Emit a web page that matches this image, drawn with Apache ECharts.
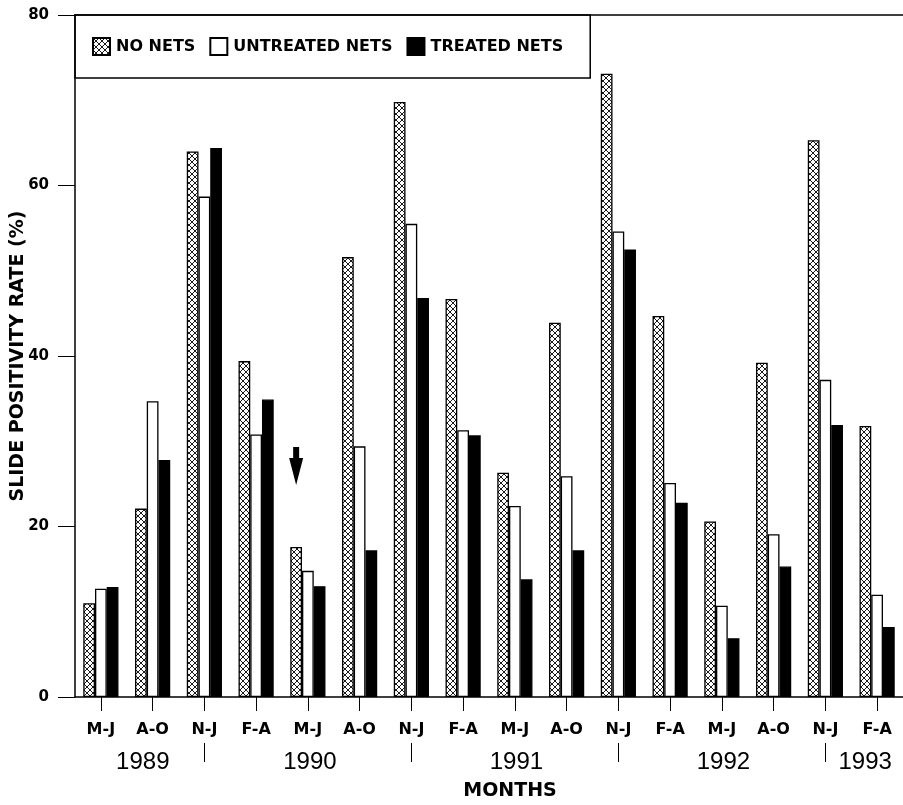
<!DOCTYPE html>
<html>
<head>
<meta charset="utf-8">
<script src="https://cdn.jsdelivr.net/npm/echarts@6/dist/echarts.min.js"></script>
<style>
html,body{margin:0;padding:0;background:#fff;}
#chart{width:903px;height:805px;}
</style>
</head>
<body>
<div id="chart"></div>
<script>
// ---- data ----
const categories = ['M-J','A-O','N-J','F-A','M-J','A-O','N-J','F-A','M-J','A-O','N-J','F-A','M-J','A-O','N-J','F-A'];
const noNets    = [11.0,22.1,64.0,39.4,17.6,51.6,69.8,46.7,26.3,43.9,73.1,44.7,20.6,39.2,65.3,31.8];
const untreated = [12.7,34.7,58.7,30.8,14.8,29.4,55.5,31.3,22.4,25.9,54.6,25.1,10.7,19.1,37.2,12.0];
const treated   = [12.9,27.8,64.4,34.9,13.0,17.2,46.8,30.7,13.8,17.2,52.5,22.8,6.9,15.3,31.9,8.2];
const seriesNames = ['NO NETS','UNTREATED NETS','TREATED NETS'];
const yearLabels = ['1989','1990','1991','1992','1993'];
const yearAt = [1.31, 4.54, 8.53, 12.53, 15.27];      // in category-band units
const yearBreaksAt = [2.5, 6.5, 10.5, 14.5];          // N-J months span two years
const arrowAt = [4, 27.1];                            // category index, value

// ---- cross-hatch pattern ----
const pc = document.createElement('canvas');
pc.width = 6; pc.height = 6;
const g = pc.getContext('2d');
g.fillStyle = '#fff'; g.fillRect(0,0,6,6);
g.strokeStyle = '#000'; g.lineWidth = 0.9;
g.beginPath();
g.moveTo(0,0); g.lineTo(6,6);
g.moveTo(6,0); g.lineTo(0,6);
g.stroke();
const hatch = {image: pc, repeat: 'repeat'};

const BOLD = 'DejaVu Sans';
const chart = echarts.init(document.getElementById('chart'), null, {renderer:'canvas'});
const barCommon = {
  type:'bar', barGap:'0%', barCategoryGap:'32%',
  xAxisIndex:0, yAxisIndex:0
};
chart.setOption({
  animation:false,
  backgroundColor:'#fff',
  grid:{left:75, right:0, top:15, bottom:108, containLabel:false, outerBoundsMode:'none'},
  legend:{
    data:seriesNames,
    left:75, top:15,
    orient:'horizontal',
    icon:'rect',
    padding:[22,27,22,17],
    borderColor:'#000', borderWidth:1.5,
    itemWidth:17, itemHeight:17, itemGap:14,
    textStyle:{fontFamily:BOLD, fontWeight:'bold', fontSize:16, color:'#000', padding:[0,0,0,1]},
    selectedMode:false
  },
  xAxis:[
    {
      type:'category', data:categories, position:'bottom', boundaryGap:true,
      axisLine:{show:true, lineStyle:{color:'#000', width:1.5}},
      axisTick:{show:true, alignWithLabel:true, length:14, lineStyle:{color:'#000', width:1}},
      axisLabel:{fontFamily:BOLD, fontWeight:'bold', fontSize:16, color:'#000', margin:25, interval:0},
      splitLine:{show:false}
    },
    {
      type:'category', data:categories, position:'top', boundaryGap:true,
      axisLine:{show:true, lineStyle:{color:'#000', width:1.5}},
      axisTick:{show:false}, axisLabel:{show:false}, splitLine:{show:false}
    },
    {
      type:'value', min:0, max:16, position:'bottom', offset:46,
      axisLine:{show:false},
      axisTick:{show:true, customValues:yearBreaksAt, length:19, inside:false, lineStyle:{color:'#000', width:1}},
      axisLabel:{
        show:true, customValues:yearAt, margin:7,
        fontFamily:'Liberation Sans', fontSize:24, color:'#000',
        formatter:function(v){ const i = yearAt.indexOf(v); return i >= 0 ? yearLabels[i] : ''; }
      },
      splitLine:{show:false},
      name:'MONTHS', nameLocation:'middle', nameGap:39, nameMoveOverlap:false,
      nameTextStyle:{fontFamily:BOLD, fontWeight:'bold', fontSize:19, color:'#000', padding:[0,0,0,42]}
    }
  ],
  yAxis:{
    type:'value', min:0, max:80, interval:20,
    axisLine:{show:true, lineStyle:{color:'#000', width:1.5}},
    axisTick:{show:true, length:17, lineStyle:{color:'#000', width:1}},
    axisLabel:{fontFamily:BOLD, fontWeight:'bold', fontSize:15, color:'#000', margin:26},
    splitLine:{show:false},
    name:'SLIDE POSITIVITY RATE (%)', nameLocation:'middle', nameGap:47, nameMoveOverlap:false,
    nameTextStyle:{fontFamily:BOLD, fontWeight:'bold', fontSize:19, color:'#000'}
  },
  series:[
    Object.assign({}, barCommon, {
      name:seriesNames[0], data:noNets,
      itemStyle:{color:hatch, borderColor:'#000', borderWidth:1.3},
      markPoint:{
        symbol:'path://M4,0 L10,0 L10,11 L14,11 L7,38 L0,11 L4,11 Z',
        symbolSize:[14,38], symbolKeepAspect:false,
        itemStyle:{color:'#000', borderWidth:0},
        label:{show:false},
        data:[{coord:arrowAt}]
      }
    }),
    Object.assign({}, barCommon, {
      name:seriesNames[1], data:untreated,
      itemStyle:{color:'#fff', borderColor:'#000', borderWidth:1.3}
    }),
    Object.assign({}, barCommon, {
      name:seriesNames[2], data:treated,
      itemStyle:{color:'#000', borderColor:'#000', borderWidth:1.3}
    })
  ]
});
</script>
</body>
</html>
